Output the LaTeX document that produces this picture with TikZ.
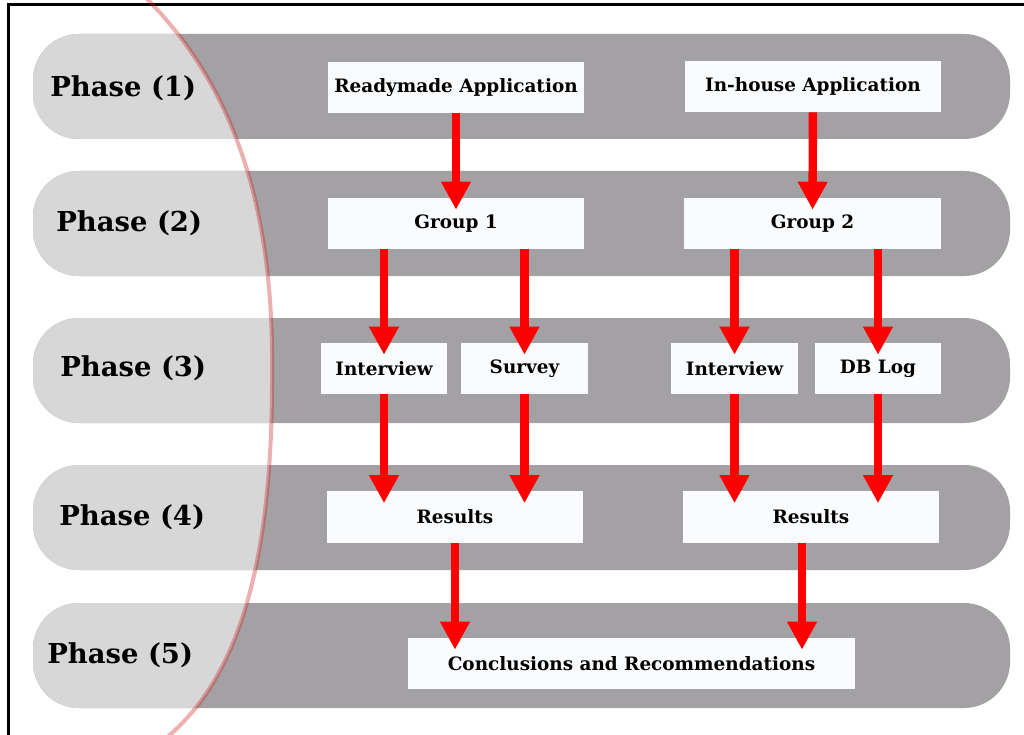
\documentclass[tikz,border=0pt]{standalone}
\usepackage{fontspec}
\setmainfont{DejaVu Serif}
\usepackage{tikz}
\usetikzlibrary{arrows.meta}

\definecolor{bandgray}{RGB}{163,161,163}
\definecolor{lightband}{RGB}{215,215,215}
\definecolor{boxwhite}{RGB}{250,251,253}
\definecolor{arcred}{RGB}{205,30,30}

\newcommand{\phasecurve}{(143,-5) .. controls (235,85) and (274,210) .. (272,372)
  .. controls (273,560) and (240,690) .. (150,750)}

\begin{document}
\begin{tikzpicture}[x=0.025cm, y=-0.025cm,
  box/.style = {fill=boxwhite, minimum width=6.4cm, minimum height=1.275cm, inner sep=0pt,
                font=\fontsize{13.1}{15}\selectfont\bfseries},
  smallbox/.style = {box, minimum width=3.15cm},
  phase/.style = {anchor=west, inner sep=0pt, font=\fontsize{19.5}{22}\selectfont\bfseries},
  flow/.style = {red, line width=0.21cm, -{Triangle[width=0.7cm, length=0.7cm]}, shorten >=-0.3cm}]
\useasboundingbox (0,0) rectangle (1024,735);
\fill[white] (0,0) rectangle (1024,735);
\draw[line width=1.5pt] (8.5,740) -- (8.5,4.5) -- (1030,4.5);

% phase bands
\foreach \t in {34,171,318,465,603}
  \fill[bandgray, rounded corners=1.15cm] (33,\t) rectangle (1010,\t+105);
\begin{scope}
  \clip \phasecurve -- (-20,750) -- (-20,-5) -- cycle;
  \foreach \t in {34,171,318,465,603}
    \fill[lightband, rounded corners=1.15cm] (33,\t) rectangle (1010,\t+105);
\end{scope}
\draw[arcred, opacity=.35, line width=0.1cm] \phasecurve;

\node[phase] (p1) at (50,88) {Phase (1)};
\node[phase] (p2) at (56,223) {Phase (2)};
\node[phase] (p3) at (60,368) {Phase (3)};
\node[phase] (p4) at (59,517) {Phase (4)};
\node[phase] (p5) at (47,655) {Phase (5)};

\node[box] (rm) at (456,87.5) {Readymade Application};
\node[box] (ih) at (813,86.5) {In-house Application};
\node[box] (g1) at (456,223.5) {Group 1};
\node[box] (g2) at (812.5,223.5) {Group 2};
\node[smallbox] (iv1) at (384,368.5) {Interview};
\node[smallbox] (sv) at (524.5,368.5) {Survey};
\node[smallbox] (iv2) at (734.5,368.5) {Interview};
\node[smallbox] (db) at (878,368.5) {DB Log};
\node[box] (res1) at (455,517) {Results};
\node[box] (res2) at (811,517) {Results};
\node[box, minimum width=11.175cm] (conc) at (631.5,663.5) {Conclusions and Recommendations};

\draw[flow] (rm) -- (g1);
\draw[flow] (ih) -- (g2);
\draw[flow] (g1.south -| iv1) -- (iv1);
\draw[flow] (g1.south -| sv) -- (sv);
\draw[flow] (g2.south -| iv2) -- (iv2);
\draw[flow] (g2.south -| db) -- (db);
\draw[flow] (iv1) -- (iv1 |- res1.north);
\draw[flow] (sv) -- (sv |- res1.north);
\draw[flow] (iv2) -- (iv2 |- res2.north);
\draw[flow] (db) -- (db |- res2.north);
\draw[flow] (res1) -- (res1 |- conc.north);
\draw[flow] ([xshift=-0.225cm]res2.south) -- ([xshift=-0.225cm]res2.south |- conc.north);
\end{tikzpicture}
\end{document}
